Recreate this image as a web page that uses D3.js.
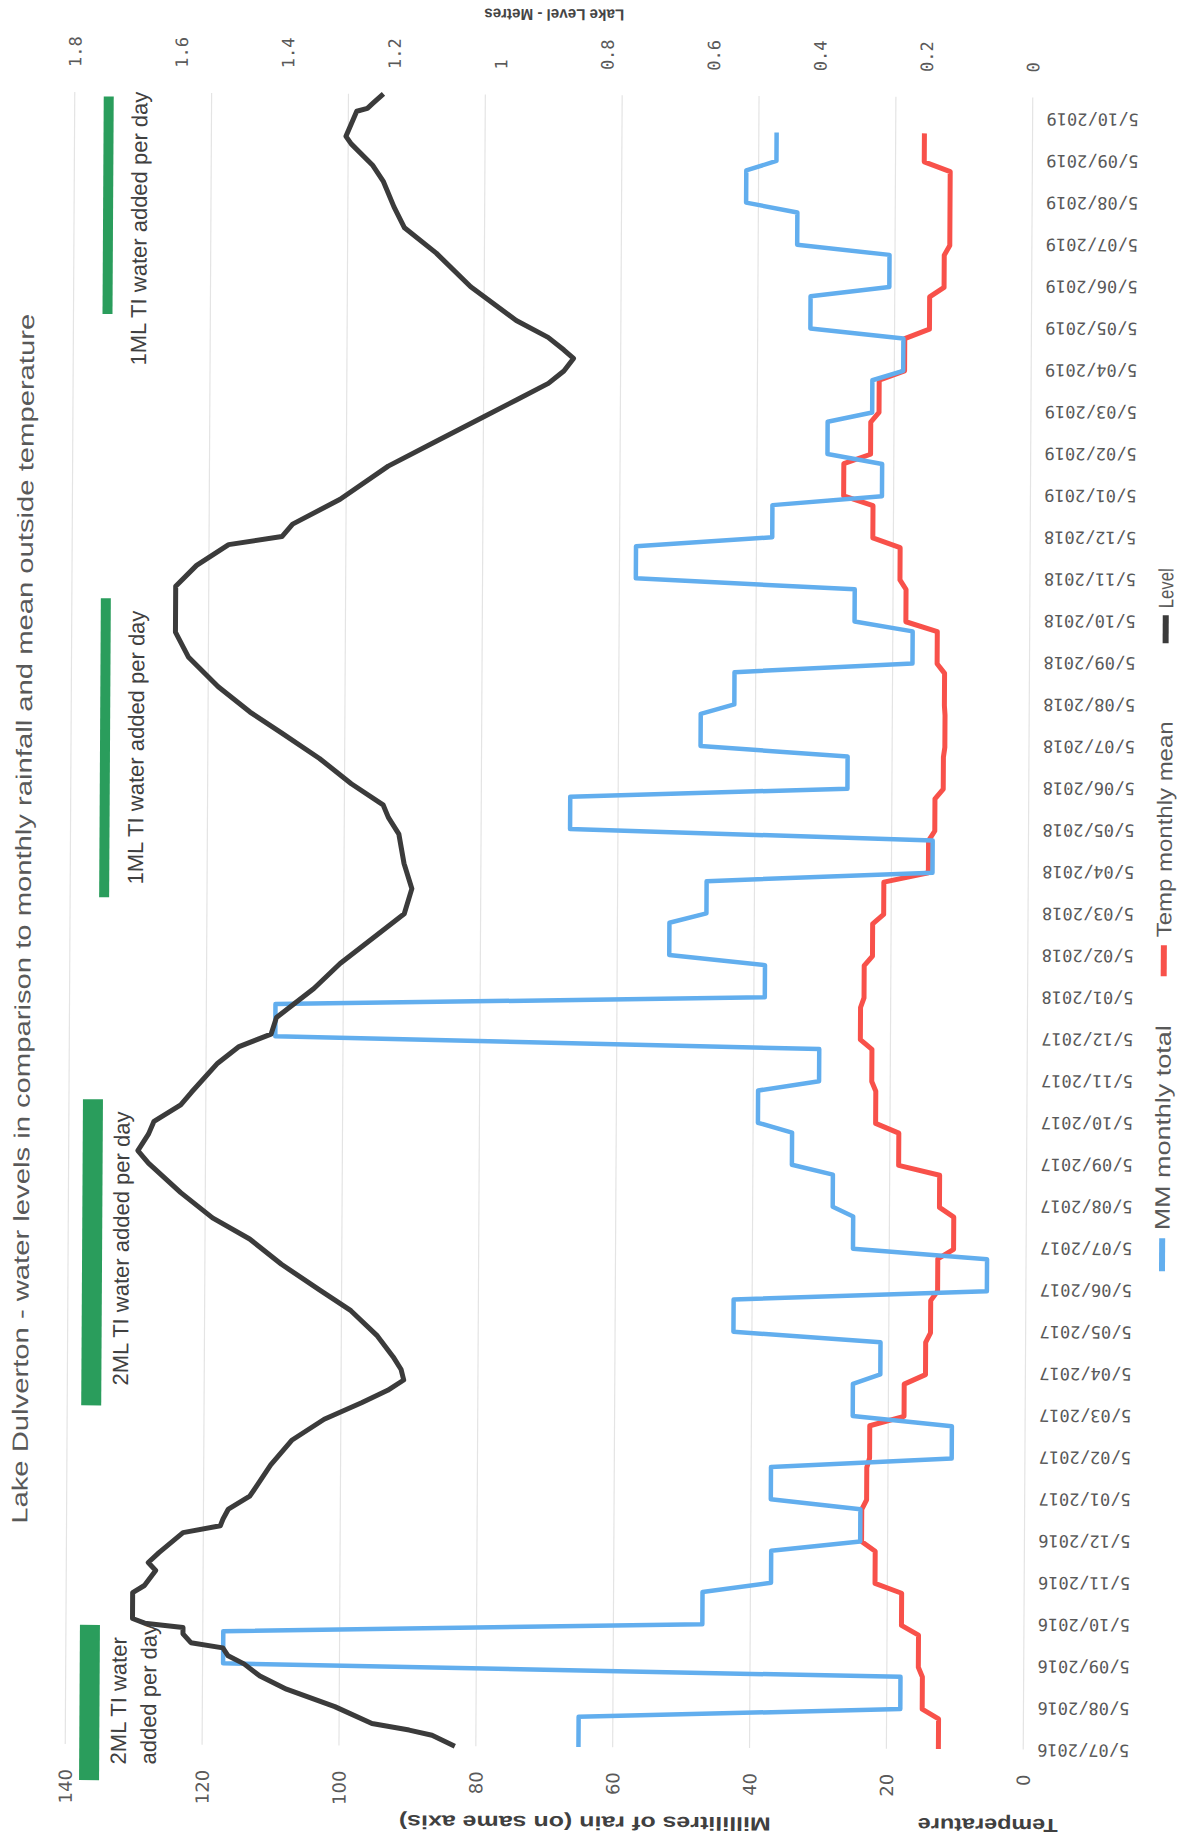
<!DOCTYPE html>
<html><head><meta charset="utf-8">
<script src="https://cdn.jsdelivr.net/npm/d3@7"></script>
<style>html,body{margin:0;padding:0;background:#fff;} svg{display:block;}</style>
</head><body>
<svg id="chart" width="1184" height="1842"></svg>
<script>
// ---------------- DATA ----------------
const dateLabels = ["5/07/2016","5/08/2016","5/09/2016","5/10/2016","5/11/2016","5/12/2016",
  "5/01/2017","5/02/2017","5/03/2017","5/04/2017","5/05/2017","5/06/2017","5/07/2017","5/08/2017",
  "5/09/2017","5/10/2017","5/11/2017","5/12/2017","5/01/2018","5/02/2018","5/03/2018","5/04/2018",
  "5/05/2018","5/06/2018","5/07/2018","5/08/2018","5/09/2018","5/10/2018","5/11/2018","5/12/2018",
  "5/01/2019","5/02/2019","5/03/2019","5/04/2019","5/05/2019","5/06/2019","5/07/2019","5/08/2019",
  "5/09/2019","5/10/2019"];
// monthly rainfall total (mm), Jul 2016 .. Sep 2019
const rainfall = [65,18,117,47,37,24,37.1,10.7,25.2,21.2,42.7,5.7,25.3,28.3,34.3,39.3,30.4,109.9,38.4,52.4,
  47.0,14.0,67.0,26.5,48.0,43.1,17.1,25.6,57.6,37.7,21.7,29.7,23.2,18.7,32.3,20.8,34.3,41.8,37.4];
// monthly mean temperature, Jul 2016 .. Sep 2019
const temperature = [12.4,14.8,15.4,17.9,21.8,23.8,23.1,22.7,17.7,14.6,13.9,12.9,10.6,12.7,18.7,22.1,22.7,
  24.4,23.9,22.7,21.1,14.6,13.7,12.5,12.3,12.4,13.5,18.1,19.0,23.0,27.3,23.4,22.2,18.5,14.9,12.8,12.0,12.0,15.8];
// lake level (m): time in months after 5/07/2016, level in metres
const levelMonths = [0.00,0.26,0.38,0.53,0.93,1.34,1.65,1.94,2.13,2.32,2.44,2.65,2.80,2.90,3.01,3.63,3.80,4.16,
  4.35,4.59,5.07,5.24,5.40,5.64,5.95,6.7,7.3,7.8,8.2,8.5,8.75,9.0,9.3,9.8,10.4,10.9,11.5,12.1,12.6,13.2,13.9,
  14.2,14.6,14.9,15.3,15.6,16.3,16.7,17.0,17.4,18.1,18.7,19.4,19.9,20.5,21.1,21.8,22.2,22.5,23.0,23.6,24.2,
  24.7,25.3,26.0,26.6,27.7,28.2,28.7,28.9,29.2,29.8,30.6,31.2,31.8,32.2,32.6,32.9,33.2,33.4,33.7,34.1,34.9,
  35.7,36.3,36.8,37.4,37.8,38.3,38.48,39.08,39.15,39.27,39.5];
const levelMetres = [1.068,1.111,1.154,1.224,1.294,1.385,1.435,1.465,1.495,1.505,1.565,1.580,1.580,1.652,1.675,
  1.675,1.653,1.632,1.646,1.626,1.581,1.511,1.506,1.496,1.456,1.417,1.377,1.317,1.247,1.198,1.168,1.173,1.188,
  1.218,1.268,1.328,1.399,1.459,1.529,1.589,1.650,1.670,1.650,1.640,1.590,1.570,1.521,1.481,1.421,1.411,1.341,
  1.292,1.222,1.172,1.158,1.173,1.183,1.203,1.213,1.273,1.333,1.404,1.464,1.524,1.580,1.605,1.605,1.566,1.506,
  1.406,1.386,1.297,1.207,1.117,1.027,0.967,0.907,0.878,0.860,0.878,0.908,0.968,1.054,1.119,1.179,1.199,1.219,
  1.24,1.28,1.29,1.27,1.25,1.24,1.22];
const leftTicks = [0,20,40,60,80,100,120,140];
const rightTicks = [0,0.2,0.4,0.6,0.8,1,1.2,1.4,1.6,1.8];
const seriesNames = ["MM monthly total","Temp monthly mean","Level"];
// water-transfer notes: months after 5/07/2016 covered by each bar
const noteFrom = [-0.86, 8.1, 20.25, 34.2];
const noteTo = [2.85, 15.42, 27.4, 39.4];
const noteTextAt = [-0.48, 8.58, 20.56, 32.97];
const noteLines = [["2ML TI water","added per day"],["2ML TI water added per day"],
  ["1ML TI water added per day"],["1ML TI water added per day"]];
const noteWide = [true,true,false,false];

// ---------------- LAYOUT ----------------
const svg = d3.select("#chart");
const root = svg.append("g").attr("transform","rotate(0.33,592,921)");
const tScale = d3.scaleLinear().domain([0,39]).range([1747,116]);
const tEnd = 39.5;
const yMain = d3.scaleLinear().domain([0,140]).range([1028,70]);
const yLevel = d3.scaleLinear().domain([0,1.8]).range([1028,70]);
const plotTop = tScale(tEnd), plotBot = tScale(0);

// gridlines
root.append("g").selectAll("line").data(leftTicks).join("line")
  .attr("x1",d=>yMain(d)).attr("x2",d=>yMain(d)).attr("y1",plotTop).attr("y2",plotBot)
  .attr("stroke","#e4e4e4").attr("stroke-width",1.2);

// step series from monthly values
function stepPoints(vals){
  const pts=[[0,vals[0]]];
  for(let i=0;i<vals.length-1;i++){ pts.push([i+0.72,vals[i]]); pts.push([i+0.95,vals[i+1]]); }
  pts.push([38.63,vals[vals.length-1]]);
  return pts;
}
const lineMain = d3.line().x(d=>yMain(d[1])).y(d=>tScale(d[0]));
root.append("path").attr("d",lineMain(stepPoints(temperature))).attr("fill","none")
  .attr("stroke","#f8514a").attr("stroke-width",5).attr("stroke-linejoin","round");
root.append("path").attr("d",lineMain(stepPoints(rainfall))).attr("fill","none")
  .attr("stroke","#62aeee").attr("stroke-width",4.5).attr("stroke-linejoin","round");
const levelPts = levelMonths.map((t,i)=>[t,levelMetres[i]]);
root.append("path").attr("d",d3.line().x(d=>yLevel(d[1])).y(d=>tScale(d[0]))(levelPts))
  .attr("fill","none").attr("stroke","#3b3b3b").attr("stroke-width",5).attr("stroke-linejoin","round");

// left (primary) axis -> bottom of page
const axL = root.append("g").attr("transform","translate(0,1772)")
  .call(d3.axisBottom(yMain).tickValues(leftTicks).tickSize(0).tickFormat(d3.format("d")));
axL.select(".domain").remove();
axL.selectAll("text").attr("x",0).attr("y",0).attr("dy","0.35em").attr("transform","rotate(-90)")
  .attr("text-anchor","end").attr("font-family","DejaVu Sans").attr("font-size",18).attr("fill","#595959");

// right (secondary) axis -> top of page
const axR = root.append("g").attr("transform","translate(0,70)")
  .call(d3.axisTop(yLevel).tickValues(rightTicks).tickSize(0).tickFormat(d3.format("~g")));
axR.select(".domain").remove();
axR.selectAll("text").attr("x",0).attr("y",0).attr("dy","0.35em").attr("transform","rotate(-90)")
  .attr("text-anchor","start").attr("font-family","DejaVu Sans Mono").attr("font-size",17).attr("fill","#595959");

// category axis -> right of page
const axD = root.append("g").attr("transform","translate(1134,0)")
  .call(d3.axisRight(tScale).tickValues(d3.range(dateLabels.length)).tickSize(0).tickFormat(i=>dateLabels[i]));
axD.select(".domain").remove();
axD.selectAll("text").attr("x",0).attr("y",0).attr("dy","0.35em").attr("transform","rotate(180)")
  .attr("text-anchor","start").attr("font-family","DejaVu Sans Mono").attr("font-size",17).attr("fill","#595959");

// axis titles
root.append("text").attr("transform","translate(993,1823) rotate(180)").attr("text-anchor","middle")
  .attr("dy","0.35em").attr("font-family","Liberation Sans").attr("font-weight","bold").attr("font-size",19)
  .attr("fill","#404040").attr("textLength",140).attr("lengthAdjust","spacingAndGlyphs").text("Temperature");
root.append("text").attr("transform","translate(590,1823) rotate(180)").attr("text-anchor","middle")
  .attr("dy","0.35em").attr("font-family","Liberation Sans").attr("font-weight","bold").attr("font-size",19)
  .attr("fill","#404040").attr("textLength",372).attr("lengthAdjust","spacingAndGlyphs")
  .text("Millilitres of rain  (on same axis)");
root.append("text").attr("transform","translate(549,15) rotate(180)").attr("text-anchor","middle")
  .attr("dy","0.35em").attr("font-family","Liberation Sans").attr("font-weight","bold").attr("font-size",16)
  .attr("fill","#454545").attr("textLength",140).attr("lengthAdjust","spacingAndGlyphs").text("Lake Level  -  Metres");

// chart title
root.append("text").attr("transform","translate(23,922) rotate(-90)").attr("text-anchor","middle")
  .attr("dy","0.35em").attr("font-family","Liberation Sans").attr("font-size",22).attr("fill","#595959")
  .attr("textLength",1210).attr("lengthAdjust","spacingAndGlyphs")
  .text("Lake Dulverton - water levels in comparison to monthly rainfall and mean outside temperature");

// notes (green bars)
const notes = root.append("g");
noteFrom.forEach((f,i)=>{
  const x0 = noteWide[i] ? 84 : 99, w = noteWide[i] ? 20 : 10;
  notes.append("rect").attr("x",x0).attr("width",w).attr("y",tScale(noteTo[i]))
    .attr("height",tScale(noteFrom[i])-tScale(noteTo[i])).attr("fill","#2a9d5c");
  const tx = noteWide[i] ? 123 : 135;
  noteLines[i].forEach((ln,j)=>{
    notes.append("text").attr("transform",`translate(${tx+j*30},${tScale(noteTextAt[i])}) rotate(-90)`)
      .attr("dy","0.35em").attr("font-family","Liberation Sans").attr("font-size",22).attr("fill","#404040").text(ln);
  });
});

// legend
const legendColors = ["#62aeee","#f8514a","#3b3b3b"];
const legendSwatch = [[1268,1235],[973,942],[640,612]];
const legendTextY = [1227,934,605];
const legendLen = [205,216,40];
const lg = root.append("g");
seriesNames.forEach((n,i)=>{
  lg.append("line").attr("x1",1164).attr("x2",1164).attr("y1",legendSwatch[i][0]).attr("y2",legendSwatch[i][1])
    .attr("stroke",legendColors[i]).attr("stroke-width",6);
  lg.append("text").attr("transform",`translate(1164,${legendTextY[i]}) rotate(-90)`).attr("dy","0.35em")
    .attr("font-family","Liberation Sans").attr("font-size",21).attr("fill","#595959")
    .attr("textLength",legendLen[i]).attr("lengthAdjust","spacingAndGlyphs").text(n);
});
</script>
</body></html>
